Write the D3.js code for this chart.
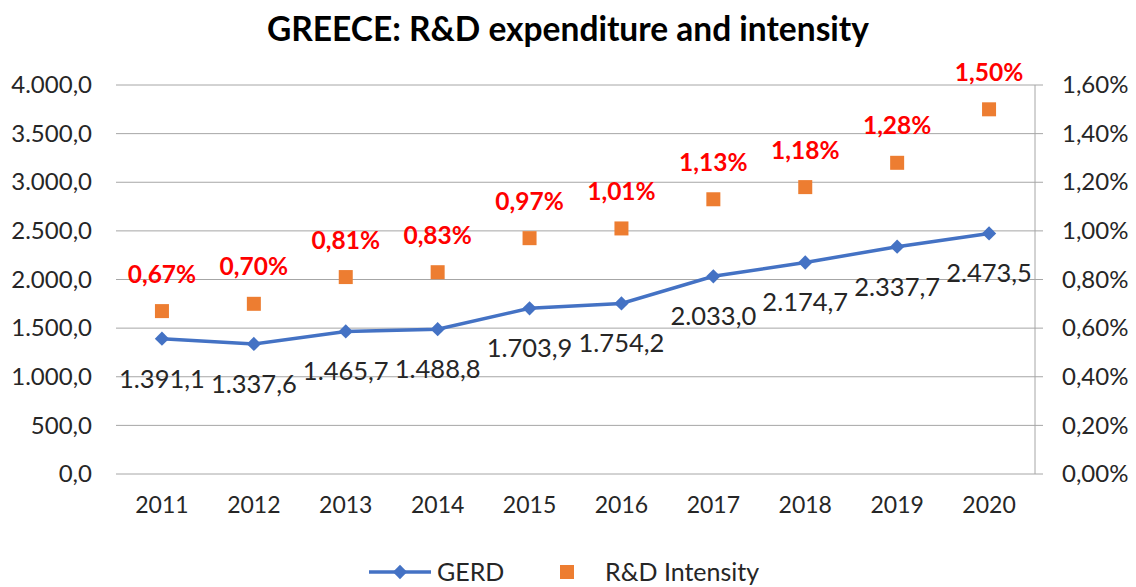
<!DOCTYPE html>
<html>
<head>
<meta charset="utf-8">
<script src="https://cdn.jsdelivr.net/npm/d3@7"></script>
<style>
  body { margin: 0; background: #fff; }
  svg text { font-family: Lato, "Open Sans", sans-serif; }
</style>
</head>
<body>
<div id="chart"></div>
<script>
// chart data
var years = ["2011", "2012", "2013", "2014", "2015", "2016", "2017", "2018", "2019", "2020"];
var gerd = [1391.1, 1337.6, 1465.7, 1488.8, 1703.9, 1754.2, 2033.0, 2174.7, 2337.7, 2473.5];
var intensity = [0.67, 0.70, 0.81, 0.83, 0.97, 1.01, 1.13, 1.18, 1.28, 1.50];
var leftTicks = [0, 500, 1000, 1500, 2000, 2500, 3000, 3500, 4000];
var rightTicks = [0, 0.2, 0.4, 0.6, 0.8, 1.0, 1.2, 1.4, 1.6];

var width = 1136, height = 587;
var plotLeft = 116, plotRight = 1035, plotTop = 85, plotBottom = 474;

var svg = d3.select("#chart").append("svg")
	.attr("width", width)
	.attr("height", height);

var locale = d3.formatLocale({decimal: ",", thousands: ".", grouping: [3], currency: ["", "€"]});
var fmt1 = locale.format(",.1f");
var fmtPct = function(v) { return locale.format(".2f")(v) + "%"; };

var x = d3.scaleBand().domain(years).range([plotLeft, plotRight]);
var y = d3.scaleLinear().domain([0, 4000]).range([plotBottom, plotTop]);
var y2 = d3.scaleLinear().domain([0, 1.6]).range([plotBottom, plotTop]);

// gridlines
svg.append("g")
	.selectAll("line")
	.data(leftTicks)
	.enter().append("line")
	.attr("x1", plotLeft).attr("x2", plotRight + 8)
	.attr("y1", function(d) { return y(d); })
	.attr("y2", function(d) { return y(d); })
	.attr("stroke", "#a6a6a6")
	.attr("stroke-width", 1);

// right axis line
svg.append("line")
	.attr("x1", plotRight).attr("x2", plotRight)
	.attr("y1", plotTop).attr("y2", plotBottom)
	.attr("stroke", "#a6a6a6");

// left axis labels
var yAxis = d3.axisLeft(y).tickValues(leftTicks).tickSize(0).tickPadding(0).tickFormat(fmt1);
svg.append("g")
	.attr("transform", "translate(" + (plotLeft - 24) + ",0)")
	.call(yAxis)
	.call(function(g) { g.select(".domain").remove(); })
	.selectAll("text")
	.style("font-size", "24px")
	.attr("fill", "#262626");

// right axis labels
var yAxis2 = d3.axisRight(y2).tickValues(rightTicks).tickSize(0).tickPadding(0).tickFormat(fmtPct);
svg.append("g")
	.attr("transform", "translate(" + (plotRight + 27) + ",0)")
	.call(yAxis2)
	.call(function(g) { g.select(".domain").remove(); })
	.selectAll("text")
	.style("font-size", "24px")
	.attr("fill", "#262626");

// x axis labels
var xAxis = d3.axisBottom(x).tickSize(0).tickPadding(0);
svg.append("g")
	.attr("transform", "translate(0," + (plotBottom + 23) + ")")
	.call(xAxis)
	.call(function(g) { g.select(".domain").remove(); })
	.selectAll("text")
	.style("font-size", "23px")
	.attr("fill", "#262626");

// GERD line
var cx = function(d, i) { return x(years[i]) + x.bandwidth() / 2; };
var line = d3.line()
	.x(function(d, i) { return cx(d, i); })
	.y(function(d) { return y(d); });

svg.append("path")
	.datum(gerd)
	.attr("d", line)
	.attr("fill", "none")
	.attr("stroke", "#4472c4")
	.attr("stroke-width", 3.5);

var diamond = d3.symbol().type(d3.symbolDiamond2).size(130);
svg.append("g")
	.selectAll("path")
	.data(gerd)
	.enter().append("path")
	.attr("d", diamond)
	.attr("transform", function(d, i) { return "translate(" + cx(d, i) + "," + y(d) + ")"; })
	.attr("fill", "#4472c4");

svg.append("g")
	.selectAll("text")
	.data(gerd)
	.enter().append("text")
	.attr("x", function(d, i) { return cx(d, i); })
	.attr("y", function(d) { return y(d) + 40; })
	.attr("dy", "0.35em")
	.attr("text-anchor", "middle")
	.style("font-size", "25.5px")
	.attr("fill", "#262626")
	.text(function(d) { return fmt1(d); });

// intensity squares
svg.append("g")
	.selectAll("rect")
	.data(intensity)
	.enter().append("rect")
	.attr("x", function(d, i) { return cx(d, i) - 7; })
	.attr("y", function(d) { return y2(d) - 7; })
	.attr("width", 14).attr("height", 14)
	.attr("fill", "#ed7d31");

svg.append("g")
	.selectAll("text")
	.data(intensity)
	.enter().append("text")
	.attr("x", function(d, i) { return cx(d, i); })
	.attr("y", function(d) { return y2(d) - 37; })
	.attr("dy", "0.35em")
	.attr("text-anchor", "middle")
	.style("font-size", "24.5px")
	.style("font-weight", "bold")
	.attr("fill", "#ff0000")
	.text(function(d) { return fmtPct(d); });

// title
svg.append("text")
	.attr("x", 568).attr("y", 29)
	.attr("dy", "0.35em")
	.attr("text-anchor", "middle")
	.style("font-size", "33.5px")
	.style("font-weight", "bold")
	.attr("fill", "#000")
	.text("GREECE: R&D expenditure and intensity");

// legend
var lg = svg.append("g").attr("transform", "translate(0,572)");
lg.append("line")
	.attr("x1", 369).attr("x2", 431)
	.attr("y1", 0).attr("y2", 0)
	.attr("stroke", "#4472c4").attr("stroke-width", 3.5);
lg.append("path")
	.attr("d", diamond)
	.attr("transform", "translate(400,0)")
	.attr("fill", "#4472c4");
lg.append("text")
	.attr("x", 437).attr("y", 0).attr("dy", "0.35em")
	.style("font-size", "25px").attr("fill", "#262626")
	.text("GERD");
lg.append("rect")
	.attr("x", 560).attr("y", -7)
	.attr("width", 14).attr("height", 14)
	.attr("fill", "#ed7d31");
lg.append("text")
	.attr("x", 605).attr("y", 0).attr("dy", "0.35em")
	.style("font-size", "25px").attr("fill", "#262626")
	.text("R&D Intensity");
</script>
</body>
</html>
